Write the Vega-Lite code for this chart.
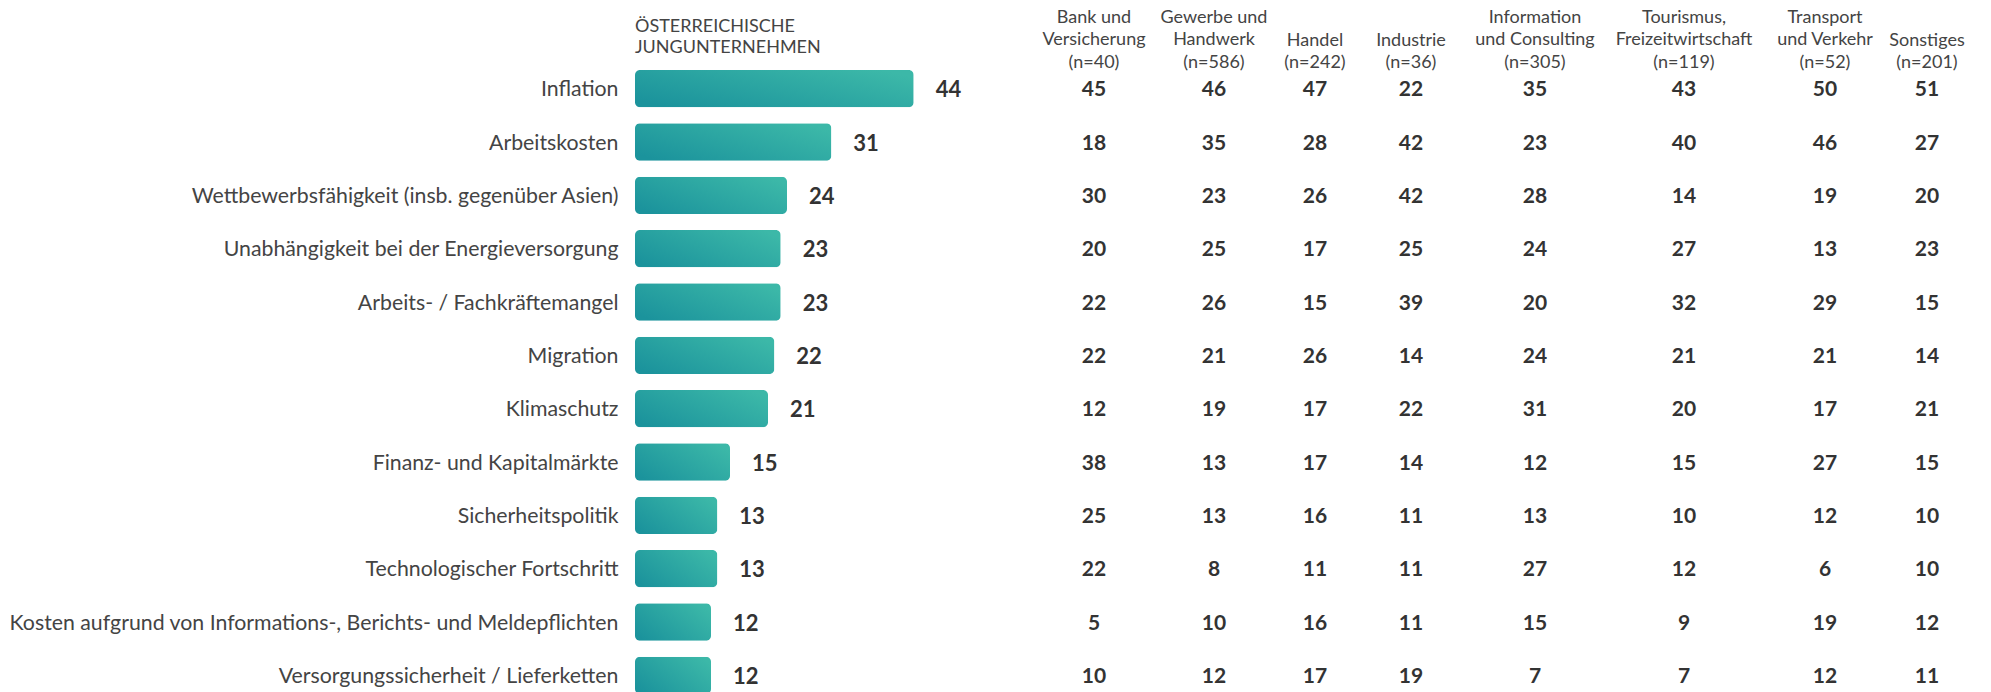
{
  "$schema": "https://vega.github.io/schema/vega-lite/v6.json",
  "background": "white",
  "padding": {"left": 8, "top": 8, "right": 5, "bottom": 0},
  "bounds": "flush",
  "spacing": 0,
  "config": {
    "view": {"stroke": null},
    "font": "Lato",
    "title": {"font": "Lato", "fontSize": 18, "fontWeight": 400, "color": "#444444", "anchor": "middle", "frame": "group", "baseline": "bottom", "offset": -10.2, "lineHeight": 22.7},
    "text": {"font": "Lato"}
  },
  "data": {"values": [
    {"thema": "Inflation", "gesamt": 44, "bank": 45, "gewerbe": 46, "handel": 47, "industrie": 22, "info": 35, "tourismus": 43, "transport": 50, "sonstiges": 51},
    {"thema": "Arbeitskosten", "gesamt": 31, "bank": 18, "gewerbe": 35, "handel": 28, "industrie": 42, "info": 23, "tourismus": 40, "transport": 46, "sonstiges": 27},
    {"thema": "Wettbewerbsfähigkeit (insb. gegenüber Asien)", "gesamt": 24, "bank": 30, "gewerbe": 23, "handel": 26, "industrie": 42, "info": 28, "tourismus": 14, "transport": 19, "sonstiges": 20},
    {"thema": "Unabhängigkeit bei der Energieversorgung", "gesamt": 23, "bank": 20, "gewerbe": 25, "handel": 17, "industrie": 25, "info": 24, "tourismus": 27, "transport": 13, "sonstiges": 23},
    {"thema": "Arbeits- / Fachkräftemangel", "gesamt": 23, "bank": 22, "gewerbe": 26, "handel": 15, "industrie": 39, "info": 20, "tourismus": 32, "transport": 29, "sonstiges": 15},
    {"thema": "Migration", "gesamt": 22, "bank": 22, "gewerbe": 21, "handel": 26, "industrie": 14, "info": 24, "tourismus": 21, "transport": 21, "sonstiges": 14},
    {"thema": "Klimaschutz", "gesamt": 21, "bank": 12, "gewerbe": 19, "handel": 17, "industrie": 22, "info": 31, "tourismus": 20, "transport": 17, "sonstiges": 21},
    {"thema": "Finanz- und Kapitalmärkte", "gesamt": 15, "bank": 38, "gewerbe": 13, "handel": 17, "industrie": 14, "info": 12, "tourismus": 15, "transport": 27, "sonstiges": 15},
    {"thema": "Sicherheitspolitik", "gesamt": 13, "bank": 25, "gewerbe": 13, "handel": 16, "industrie": 11, "info": 13, "tourismus": 10, "transport": 12, "sonstiges": 10},
    {"thema": "Technologischer Fortschritt", "gesamt": 13, "bank": 22, "gewerbe": 8, "handel": 11, "industrie": 11, "info": 27, "tourismus": 12, "transport": 6, "sonstiges": 10},
    {"thema": "Kosten aufgrund von Informations-, Berichts- und Meldepflichten", "gesamt": 12, "bank": 5, "gewerbe": 10, "handel": 16, "industrie": 11, "info": 15, "tourismus": 9, "transport": 19, "sonstiges": 12},
    {"thema": "Versorgungssicherheit / Lieferketten", "gesamt": 12, "bank": 10, "gewerbe": 12, "handel": 17, "industrie": 19, "info": 7, "tourismus": 7, "transport": 12, "sonstiges": 11}
  ]},
  "hconcat": [
    {
      "width": 399, "height": 640,
      "title": {"text": ["ÖSTERREICHISCHE", "JUNGUNTERNEHMEN"], "anchor": "start", "frame": "group", "baseline": "bottom", "offset": -13.4, "fontSize": 18, "fontWeight": 400, "color": "#444444", "lineHeight": 21.6},
      "encoding": {
        "y": {"field": "thema", "type": "nominal", "sort": null, "scale": {"paddingInner": 0.3, "paddingOuter": 0.15},
          "axis": {"title": null, "domain": false, "ticks": false, "labelPadding": 17, "labelOffset": 1.5, "labelFontSize": 21.3, "labelFont": "Lato", "labelColor": "#444444", "labelLimit": 1000}}
      },
      "layer": [
        {
          "mark": {"type": "bar", "cornerRadius": 5,
            "color": {"gradient": "linear", "x1": 0, "y1": 0.8, "x2": 1, "y2": 0.2,
              "stops": [{"offset": 0, "color": "#1b939c"}, {"offset": 1, "color": "#3cb8a8"}]}},
          "encoding": {"x": {"field": "gesamt", "type": "quantitative", "scale": {"domain": [0, 63], "nice": false, "zero": true}, "axis": null}}
        },
        {
          "mark": {"type": "text", "align": "left", "dx": 22, "dy": 1.5, "baseline": "middle", "fontSize": 22, "fontWeight": "bold", "color": "#333333"},
          "encoding": {"x": {"field": "gesamt", "type": "quantitative", "scale": {"domain": [0, 63], "nice": false, "zero": true}, "axis": null}, "text": {"field": "gesamt", "type": "quantitative"}}
        }
      ]
    },
    {
      "width": 120, "height": 640,
      "title": {"text": ["Bank und", "Versicherung", "(n=40)"]},
      "mark": {"type": "text", "fontSize": 21, "fontWeight": "bold", "color": "#333333", "baseline": "middle", "dy": 1.5},
      "encoding": {"y": {"field": "thema", "type": "nominal", "sort": null, "scale": {"paddingInner": 0.3, "paddingOuter": 0.15}, "axis": null}, "text": {"field": "bank", "type": "quantitative"}}
    },
    {
      "width": 120, "height": 640,
      "title": {"text": ["Gewerbe und", "Handwerk", "(n=586)"]},
      "mark": {"type": "text", "fontSize": 21, "fontWeight": "bold", "color": "#333333", "baseline": "middle", "dy": 1.5},
      "encoding": {"y": {"field": "thema", "type": "nominal", "sort": null, "scale": {"paddingInner": 0.3, "paddingOuter": 0.15}, "axis": null}, "text": {"field": "gewerbe", "type": "quantitative"}}
    },
    {
      "width": 82, "height": 640,
      "title": {"text": ["Handel", "(n=242)"]},
      "mark": {"type": "text", "fontSize": 21, "fontWeight": "bold", "color": "#333333", "baseline": "middle", "dy": 1.5},
      "encoding": {"y": {"field": "thema", "type": "nominal", "sort": null, "scale": {"paddingInner": 0.3, "paddingOuter": 0.15}, "axis": null}, "text": {"field": "handel", "type": "quantitative"}}
    },
    {
      "width": 110, "height": 640,
      "title": {"text": ["Industrie", "(n=36)"]},
      "mark": {"type": "text", "fontSize": 21, "fontWeight": "bold", "color": "#333333", "baseline": "middle", "dy": 1.5},
      "encoding": {"y": {"field": "thema", "type": "nominal", "sort": null, "scale": {"paddingInner": 0.3, "paddingOuter": 0.15}, "axis": null}, "text": {"field": "industrie", "type": "quantitative"}}
    },
    {
      "width": 138, "height": 640,
      "title": {"text": ["Information", "und Consulting", "(n=305)"]},
      "mark": {"type": "text", "fontSize": 21, "fontWeight": "bold", "color": "#333333", "baseline": "middle", "dy": 1.5},
      "encoding": {"y": {"field": "thema", "type": "nominal", "sort": null, "scale": {"paddingInner": 0.3, "paddingOuter": 0.15}, "axis": null}, "text": {"field": "info", "type": "quantitative"}}
    },
    {
      "width": 160, "height": 640,
      "title": {"text": ["Tourismus,", "Freizeitwirtschaft", "(n=119)"]},
      "mark": {"type": "text", "fontSize": 21, "fontWeight": "bold", "color": "#333333", "baseline": "middle", "dy": 1.5},
      "encoding": {"y": {"field": "thema", "type": "nominal", "sort": null, "scale": {"paddingInner": 0.3, "paddingOuter": 0.15}, "axis": null}, "text": {"field": "tourismus", "type": "quantitative"}}
    },
    {
      "width": 122, "height": 640,
      "title": {"text": ["Transport", "und Verkehr", "(n=52)"]},
      "mark": {"type": "text", "fontSize": 21, "fontWeight": "bold", "color": "#333333", "baseline": "middle", "dy": 1.5},
      "encoding": {"y": {"field": "thema", "type": "nominal", "sort": null, "scale": {"paddingInner": 0.3, "paddingOuter": 0.15}, "axis": null}, "text": {"field": "transport", "type": "quantitative"}}
    },
    {
      "width": 82, "height": 640,
      "title": {"text": ["Sonstiges", "(n=201)"]},
      "mark": {"type": "text", "fontSize": 21, "fontWeight": "bold", "color": "#333333", "baseline": "middle", "dy": 1.5},
      "encoding": {"y": {"field": "thema", "type": "nominal", "sort": null, "scale": {"paddingInner": 0.3, "paddingOuter": 0.15}, "axis": null}, "text": {"field": "sonstiges", "type": "quantitative"}}
    }
  ]
}
